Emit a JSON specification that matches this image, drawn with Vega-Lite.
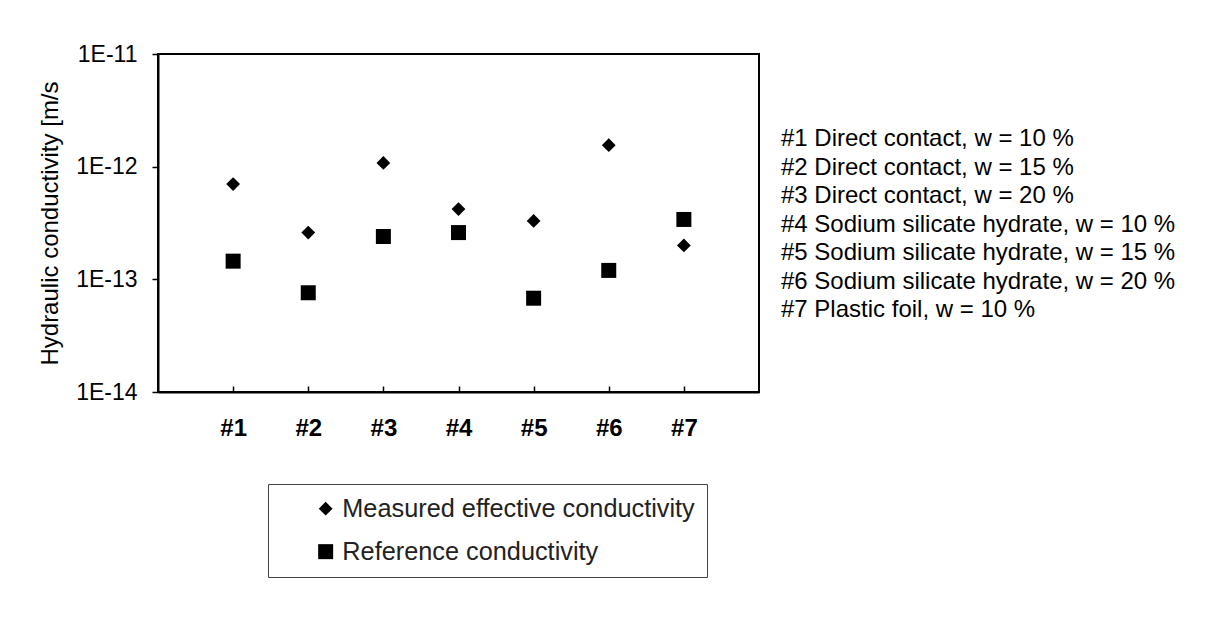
{
  "$schema": "https://vega.github.io/schema/vega-lite/v6.json",
  "width": 601,
  "height": 338,
  "autosize": {"type": "none"},
  "padding": {"left": 158, "top": 54, "right": 466, "bottom": 252},
  "background": "white",
  "config": {
    "font": "Liberation Sans",
    "view": {"stroke": "black", "strokeWidth": 2},
    "axis": {"grid": false, "domainColor": "black", "domainWidth": 2, "tickColor": "black", "tickWidth": 1.5, "labelColor": "black", "titleColor": "black"}
  },
  "data": {
    "values": [
      {"cat": "#1", "desc": "#1 Direct contact, w = 10 %", "series": "Measured effective conductivity", "k": 7.0e-13},
      {"cat": "#2", "desc": "#2 Direct contact, w = 15 %", "series": "Measured effective conductivity", "k": 2.6e-13},
      {"cat": "#3", "desc": "#3 Direct contact, w = 20 %", "series": "Measured effective conductivity", "k": 1.08e-12},
      {"cat": "#4", "desc": "#4 Sodium silicate hydrate, w = 10 %", "series": "Measured effective conductivity", "k": 4.2e-13},
      {"cat": "#5", "desc": "#5 Sodium silicate hydrate, w = 15 %", "series": "Measured effective conductivity", "k": 3.3e-13},
      {"cat": "#6", "desc": "#6 Sodium silicate hydrate, w = 20 %", "series": "Measured effective conductivity", "k": 1.55e-12},
      {"cat": "#7", "desc": "#7 Plastic foil, w = 10 %", "series": "Measured effective conductivity", "k": 2.0e-13},
      {"cat": "#1", "desc": "#1 Direct contact, w = 10 %", "series": "Reference conductivity", "k": 1.45e-13},
      {"cat": "#2", "desc": "#2 Direct contact, w = 15 %", "series": "Reference conductivity", "k": 7.6e-14},
      {"cat": "#3", "desc": "#3 Direct contact, w = 20 %", "series": "Reference conductivity", "k": 2.4e-13},
      {"cat": "#4", "desc": "#4 Sodium silicate hydrate, w = 10 %", "series": "Reference conductivity", "k": 2.6e-13},
      {"cat": "#5", "desc": "#5 Sodium silicate hydrate, w = 15 %", "series": "Reference conductivity", "k": 6.8e-14},
      {"cat": "#6", "desc": "#6 Sodium silicate hydrate, w = 20 %", "series": "Reference conductivity", "k": 1.2e-13},
      {"cat": "#7", "desc": "#7 Plastic foil, w = 10 %", "series": "Reference conductivity", "k": 3.4e-13}
    ]
  },
  "mark": {"type": "point", "filled": true, "opacity": 1},
  "encoding": {
    "x": {
      "field": "cat", "type": "ordinal",
      "scale": {"type": "point", "padding": 1},
      "axis": {"title": null, "labelAngle": 0, "labelFontSize": 24, "labelFontWeight": "bold", "tickSize": -6, "labelPadding": 30}
    },
    "y": {
      "field": "k", "type": "quantitative",
      "scale": {"type": "log", "domain": [1e-14, 1e-11], "nice": false},
      "axis": {
        "title": "Hydraulic conductivity [m/s",
        "titleFontSize": 24, "titleFontWeight": "normal", "titlePadding": 13,
        "values": [1e-14, 1e-13, 1e-12, 1e-11],
        "labelExpr": "'1E-' + round(-log(datum.value)/LN10)",
        "labelFontSize": 23, "tickSize": 6, "labelPadding": 15
      }
    },
    "shape": {
      "field": "series", "type": "nominal",
      "scale": {"range": ["diamond", "square"]},
      "legend": {
        "title": null, "orient": "none", "legendX": 110, "legendY": 430,
        "strokeColor": "#444", "padding": 12,
        "labelFontSize": 25.3, "labelColor": "#222", "rowPadding": 17, "labelLimit": 600,
        "symbolOffset": 33, "labelOffset": 4,
        "symbolFillColor": "#222", "symbolStrokeColor": "#222", "symbolStrokeWidth": 0
      }
    },
    "size": {
      "field": "series", "type": "nominal",
      "scale": {"range": [190, 225]}
    },
    "color": {
      "field": "desc", "type": "nominal",
      "scale": {"range": ["black", "black", "black", "black", "black", "black", "black"]},
      "legend": {
        "title": null, "orient": "none", "legendX": 599, "legendY": 73,
        "padding": 0, "labelOffset": 0, "symbolSize": 0, "symbolOpacity": 0,
        "labelFontSize": 24, "labelColor": "black", "rowPadding": 4.5, "labelLimit": 600
      }
    }
  }
}
